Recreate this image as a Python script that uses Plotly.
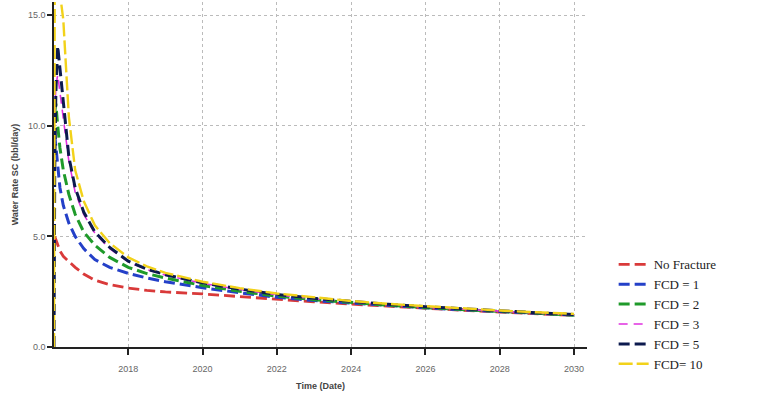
import plotly.graph_objects as go

time_years = [2016.0, 2016.02, 2016.05, 2016.1, 2016.16, 2016.25, 2016.4, 2016.57, 2016.8,
              2017.1, 2017.5, 2018.0, 2018.5, 2019.0, 2020.0, 2021.0, 2022.0, 2023.0,
              2024.0, 2025.0, 2026.0, 2027.0, 2028.0, 2029.0, 2030.0]

no_fracture = [None, 5.0, 4.85, 4.6, 4.35, 4.1, 3.85, 3.6, 3.3, 3.02, 2.82, 2.66, 2.56, 2.49,
               2.4, 2.27, 2.14, 2.04, 1.94, 1.84, 1.75, 1.66, 1.58, 1.5, 1.43]
fcd_1 = [None, 9.6, 9.0, 8.1, 7.2, 6.4, 5.6, 5.0, 4.45, 3.95, 3.6, 3.33, 3.12, 2.95,
         2.68, 2.45, 2.25, 2.1, 1.98, 1.87, 1.77, 1.68, 1.6, 1.52, 1.44]
fcd_2 = [None, 10.6, 11.0, 10.0, 9.0, 8.0, 6.9, 6.0, 5.2, 4.6, 4.05, 3.6, 3.32, 3.12,
         2.78, 2.52, 2.3, 2.14, 2.0, 1.89, 1.78, 1.69, 1.6, 1.52, 1.44]
fcd_3 = [None, 10.5, 11.8, 12.3, 11.5, 10.2, 8.4, 7.0, 6.0, 5.15, 4.45, 3.85, 3.5, 3.25,
         2.88, 2.6, 2.36, 2.18, 2.03, 1.91, 1.8, 1.7, 1.61, 1.53, 1.45]
fcd_5 = [0.0, 8.0, 11.5, 13.6, 12.6, 11.0, 8.6, 7.2, 6.1, 5.2, 4.5, 3.88, 3.52, 3.27,
         2.9, 2.62, 2.38, 2.2, 2.05, 1.93, 1.82, 1.72, 1.63, 1.55, 1.47]
fcd_10 = [0.0, 17.0, 17.5, 17.0, 16.0, 14.8, 10.4, 8.0, 6.6, 5.5, 4.7, 4.05, 3.65, 3.35,
          2.95, 2.66, 2.42, 2.24, 2.08, 1.95, 1.84, 1.74, 1.65, 1.57, 1.5]

series_names = ["No Fracture", "FCD = 1", "FCD = 2", "FCD = 3", "FCD = 5", "FCD= 10"]
series_values = [no_fracture, fcd_1, fcd_2, fcd_3, fcd_5, fcd_10]
series_colors = ["#d93a3a", "#2440c8", "#1f9a2a", "#e030e0", "#0c1a4e", "#f2d21a"]
series_widths = [2.8, 3.0, 3.0, 1.6, 3.0, 2.4]
series_dashes = ["11px,5px", "11px,5px", "11px,5px", "9px,6px", "11px,5px", "14px,4px"]

x_ticks = [2018, 2020, 2022, 2024, 2026, 2028, 2030]
y_ticks = [0, 5, 10, 15]
y_tick_labels = ["0.0", "5.0", "10.0", "15.0"]

fig = go.Figure()
for name, vals, col, w, d in zip(series_names, series_values, series_colors, series_widths, series_dashes):
    fig.add_trace(go.Scatter(x=time_years, y=vals, mode="lines", name=name,
                             line=dict(color=col, width=w, dash=d),
                             connectgaps=False))

fig.update_layout(
    width=761, height=401,
    margin=dict(l=54, r=174, t=2, b=54),
    plot_bgcolor="white", paper_bgcolor="white",
    showlegend=True,
    legend=dict(x=1.05, y=0.283, xanchor="left", yanchor="top",
                font=dict(family="Liberation Serif, Times New Roman, serif", size=13, color="#222"),
                bgcolor="rgba(0,0,0,0)", tracegroupgap=0),
    xaxis=dict(range=[2016.0, 2030.35], tickvals=x_ticks, ticktext=[str(v) for v in x_ticks],
               showgrid=True, gridcolor="#bbbbbb", griddash="dot", gridwidth=1,
               showline=True, linecolor="#222", linewidth=1.5, ticks="outside",
               ticklen=6, tickwidth=1.5, tickcolor="#222", zeroline=False,
               ticklabelstandoff=6,
               tickfont=dict(family="Arial, Liberation Sans, sans-serif", size=9, color="#666"),
               title=dict(text="<b>Time (Date)</b>", standoff=10,
                          font=dict(family="Arial, Liberation Sans, sans-serif", size=9, color="#444"))),
    yaxis=dict(range=[0, 15.6], tickvals=y_ticks, ticktext=y_tick_labels,
               showgrid=True, gridcolor="#bbbbbb", griddash="dot", gridwidth=1,
               showline=True, linecolor="#222", linewidth=1.5, ticks="outside",
               ticklen=5, tickwidth=1.5, tickcolor="#222", zeroline=False,
               tickfont=dict(family="Arial, Liberation Sans, sans-serif", size=9, color="#666"),
               title=dict(text="<b>Water Rate SC (bbl/day)</b>", standoff=8,
                          font=dict(family="Arial, Liberation Sans, sans-serif", size=9, color="#444"))),
)

fig.write_html("out.html")
